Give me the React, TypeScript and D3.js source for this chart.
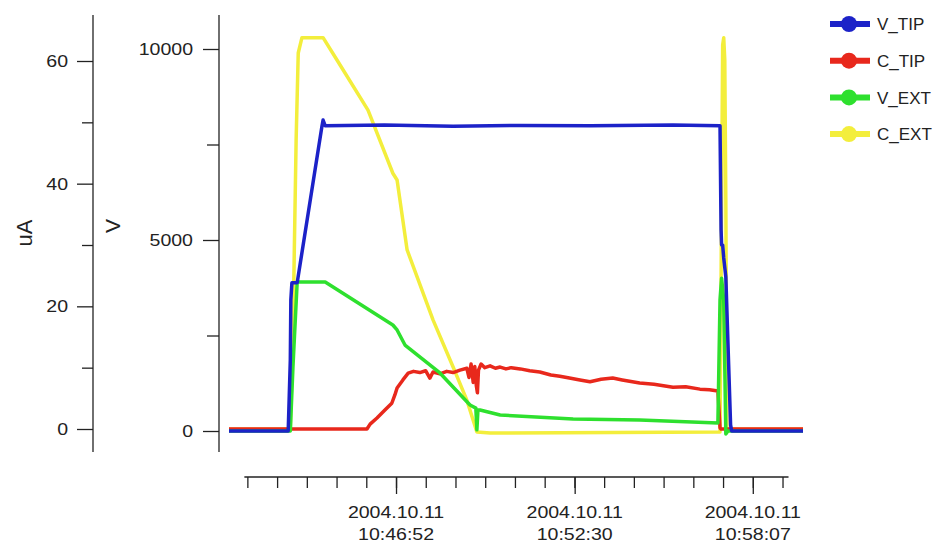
import { useEffect } from 'react';
import * as d3 from 'd3';

const day = '2004-10-11 ';

const vTipTimes = ['10:41:36', '10:43:28', '10:43:30', '10:43:32', '10:43:33', '10:43:35', '10:43:45', '10:44:32', '10:44:34', '10:44:38', '10:46:30', '10:48:40', '10:50:47', '10:53:00', '10:55:36', '10:57:05', '10:57:07', '10:57:08', '10:57:10', '10:57:12', '10:57:16', '10:57:25', '10:57:27', '10:59:42'];
const vTipValues = [0, 0, 920, 1860, 3430, 3880, 3880, 7990, 8140, 7990, 8010, 7980, 8000, 7990, 8010, 7990, 5260, 4870, 4870, 4530, 4030, 160, 0, 0];

const cTipTimes = ['10:41:36', '10:45:57', '10:46:03', '10:46:16', '10:46:31', '10:46:44', '10:46:50', '10:46:54', '10:47:05', '10:47:15', '10:47:25', '10:47:37', '10:47:48', '10:47:56', '10:48:02', '10:48:15', '10:48:28', '10:48:40', '10:48:53', '10:49:06', '10:49:10', '10:49:14', '10:49:18', '10:49:21', '10:49:24', '10:49:26', '10:49:28', '10:49:33', '10:49:40', '10:49:50', '10:50:00', '10:50:09', '10:50:20', '10:50:30', '10:50:47', '10:51:05', '10:51:24', '10:51:45', '10:52:02', '10:52:20', '10:52:40', '10:52:59', '10:53:20', '10:53:42', '10:54:00', '10:54:33', '10:55:00', '10:55:36', '10:56:00', '10:56:27', '10:56:45', '10:57:01', '10:57:05', '10:57:07', '10:59:42'];
const cTipValues = [0, 0, 0.8, 1.8, 3.1, 4.2, 5.6, 6.7, 8.0, 9.1, 9.4, 9.2, 9.5, 8.3, 9.3, 9.0, 9.4, 9.2, 9.6, 9.9, 8.4, 10.6, 7.6, 10.2, 7.0, 5.9, 9.6, 10.6, 10.0, 10.3, 9.9, 10.1, 9.8, 10.0, 9.8, 9.5, 9.3, 8.8, 8.6, 8.3, 8.0, 7.7, 8.1, 8.3, 8.0, 7.5, 7.3, 6.8, 6.9, 6.5, 6.4, 6.2, 0.2, 0, 0];

const vExtTimes = ['10:41:36', '10:43:32', '10:43:37', '10:43:45', '10:44:38', '10:46:46', '10:46:54', '10:47:09', '10:48:15', '10:49:12', '10:49:23', '10:49:25', '10:49:27', '10:49:31', '10:50:09', '10:52:27', '10:54:33', '10:57:01', '10:57:05', '10:57:08', '10:57:12', '10:57:16', '10:57:20', '10:59:42'];
const vExtValues = [0, 0, 1680, 3900, 3900, 2775, 2645, 2250, 1520, 680, 600, 30, 550, 550, 420, 315, 290, 210, 3430, 4000, 3430, -80, 0, 0];

const cExtTimes = ['10:41:36', '10:43:32', '10:43:37', '10:43:43', '10:43:47', '10:43:54', '10:44:34', '10:45:00', '10:45:59', '10:46:46', '10:46:54', '10:47:13', '10:48:02', '10:48:40', '10:49:06', '10:49:25', '10:49:50', '10:57:05', '10:57:08', '10:57:10', '10:57:12', '10:57:14', '10:57:16', '10:57:18', '10:57:20', '10:59:42'];
const cExtValues = [0, 0, 15.7, 47.1, 61.3, 63.8, 63.8, 60.2, 52.0, 41.7, 40.6, 29.2, 17.8, 10.1, 4.7, -0.5, -0.65, -0.5, 37.3, 62.6, 63.8, 60.2, 37.3, -0.2, 0, 0];

const seriesNames = ['V_TIP', 'C_TIP', 'V_EXT', 'C_EXT'];
const seriesColors = ['#1c22c8', '#e8281c', '#2ee02e', '#f3ee3c'];

const majorTickTimes = ['10:46:52', '10:52:30', '10:58:07'];
const uATicks = [0, 20, 40, 60];
const uAMinorTicks = [10, 30, 50];
const vTicks = [0, 5000, 10000];
const vMinorTicks = [2500, 7500];

function Chart({ width, height }) {

	const drawChart = () => {
		const font = '"Liberation Sans", Arial, sans-serif';
		const fontSize = 17;
		const stretch = 'scale(1.15,1)';
		const axisTop = 15;
		const axisBottom = 452;
		const uAAxisX = 93;
		const vAxisX = 219;
		const xAxisY = 477;

		const parse = d3.timeParse('%Y-%m-%d %H:%M:%S');
		const toDate = t => parse(day + t);

		d3.select('#container').select('svg').remove();

		const svg = d3
			.select('#container')
			.append('svg')
			.attr('width', width)
			.attr('height', height)
			.style('display', 'block')
			.style('background', '#fff');

		const allTimes = [...vTipTimes, ...cTipTimes, ...vExtTimes, ...cExtTimes].map(toDate);
		const xScale = d3
			.scaleTime()
			.domain(d3.extent(allTimes))
			.range([229, 803]);
		const vScale = d3
			.scaleLinear()
			.domain([0, 10000])
			.range([431, 49]);
		const uAScale = d3
			.scaleLinear()
			.domain([0, 60])
			.range([429, 61]);

		const styleAxis = g => {
			g.select('.domain').remove();
			g.selectAll('line').attr('stroke', '#222').attr('stroke-width', 1.3);
		};

		// left (uA) axis
		svg.append('line')
			.attr('x1', uAAxisX).attr('x2', uAAxisX)
			.attr('y1', axisTop).attr('y2', axisBottom)
			.attr('stroke', '#222').attr('stroke-width', 1.3);
		svg.append('g')
			.attr('transform', `translate(${uAAxisX},0)`)
			.call(d3.axisLeft(uAScale).tickValues(uATicks).tickSize(16).tickFormat(''))
			.call(styleAxis);
		svg.append('g')
			.attr('transform', `translate(${uAAxisX},0)`)
			.call(d3.axisLeft(uAScale).tickValues(uAMinorTicks).tickSize(11).tickFormat(''))
			.call(styleAxis);
		svg.append('g')
			.selectAll('text')
			.data(uATicks)
			.join('text')
			.attr('transform', d => `translate(${uAAxisX - 25},${uAScale(d)}) ${stretch}`)
			.attr('dy', '0.35em')
			.attr('text-anchor', 'end')
			.style('font-family', font)
			.style('font-size', fontSize + 'px')
			.attr('fill', '#222')
			.text(d => d);

		// inner (V) axis
		svg.append('line')
			.attr('x1', vAxisX).attr('x2', vAxisX)
			.attr('y1', axisTop).attr('y2', axisBottom)
			.attr('stroke', '#222').attr('stroke-width', 1.3);
		svg.append('g')
			.attr('transform', `translate(${vAxisX},0)`)
			.call(d3.axisLeft(vScale).tickValues(vTicks).tickSize(16).tickFormat(''))
			.call(styleAxis);
		svg.append('g')
			.attr('transform', `translate(${vAxisX},0)`)
			.call(d3.axisLeft(vScale).tickValues(vMinorTicks).tickSize(12).tickFormat(''))
			.call(styleAxis);
		svg.append('g')
			.selectAll('text')
			.data(vTicks)
			.join('text')
			.attr('transform', d => `translate(${vAxisX - 26},${vScale(d)}) ${stretch}`)
			.attr('dy', '0.35em')
			.attr('text-anchor', 'end')
			.style('font-family', font)
			.style('font-size', fontSize + 'px')
			.attr('fill', '#222')
			.text(d => d);

		// axis titles
		svg.append('text')
			.attr('transform', `translate(32,233) rotate(-90)`)
			.attr('text-anchor', 'middle')
			.style('font-family', font)
			.style('font-size', '22px')
			.attr('fill', '#222')
			.text('uA');
		svg.append('text')
			.attr('transform', `translate(120,226) rotate(-90)`)
			.attr('text-anchor', 'middle')
			.style('font-family', font)
			.style('font-size', '21px')
			.attr('fill', '#222')
			.text('V');

		// bottom time axis
		const majors = majorTickTimes.map(toDate);
		const step = (majors[majors.length - 1] - majors[0]) / ((majors.length - 1) * 6);
		const minors = d3.range(-5, (majors.length - 1) * 6 + 2).map(i => new Date(+majors[0] + i * step));
		svg.append('line')
			.attr('x1', xScale(minors[0]) - 3).attr('x2', xScale(minors[minors.length - 1]) + 6)
			.attr('y1', xAxisY).attr('y2', xAxisY)
			.attr('stroke', '#222').attr('stroke-width', 1.3);
		svg.append('g')
			.attr('transform', `translate(0,${xAxisY})`)
			.call(d3.axisBottom(xScale).tickValues(minors).tickSize(11).tickFormat(''))
			.call(styleAxis);
		svg.append('g')
			.attr('transform', `translate(0,${xAxisY})`)
			.call(d3.axisBottom(xScale).tickValues(majors).tickSize(17).tickFormat(''))
			.call(styleAxis);
		const fmtDay = d3.timeFormat('%Y.%m.%d');
		const fmtTime = d3.timeFormat('%H:%M:%S');
		const labels = svg.append('g')
			.selectAll('g')
			.data(majors)
			.join('g')
			.attr('transform', d => `translate(${xScale(d)},0)`);
		labels.append('text')
			.attr('transform', `translate(0,518) ${stretch}`)
			.attr('text-anchor', 'middle')
			.style('font-family', font)
			.style('font-size', fontSize + 'px')
			.attr('fill', '#222')
			.text(d => fmtDay(d));
		labels.append('text')
			.attr('transform', `translate(0,540) ${stretch}`)
			.attr('text-anchor', 'middle')
			.style('font-family', font)
			.style('font-size', fontSize + 'px')
			.attr('fill', '#222')
			.text(d => fmtTime(d));

		// traces
		const series = [
			{ times: cExtTimes, values: cExtValues, scale: uAScale, color: seriesColors[3] },
			{ times: cTipTimes, values: cTipValues, scale: uAScale, color: seriesColors[1] },
			{ times: vExtTimes, values: vExtValues, scale: vScale, color: seriesColors[2] },
			{ times: vTipTimes, values: vTipValues, scale: vScale, color: seriesColors[0] },
		];
		series.forEach(s => {
			const pts = s.times.map((t, i) => [toDate(t), s.values[i]]);
			const line = d3
				.line()
				.x(d => xScale(d[0]))
				.y(d => s.scale(d[1]));
			svg.append('path')
				.datum(pts)
				.attr('fill', 'none')
				.attr('stroke', s.color)
				.attr('stroke-width', 3.5)
				.attr('stroke-linejoin', 'round')
				.attr('d', line);
		});

		// legend
		const legend = svg.append('g')
			.selectAll('g')
			.data(seriesNames)
			.join('g')
			.attr('transform', (d, i) => `translate(830,${24 + i * 36.7})`);
		legend.append('line')
			.attr('x1', 0).attr('x2', 40)
			.attr('stroke', (d, i) => seriesColors[i])
			.attr('stroke-width', 6);
		legend.append('circle')
			.attr('cx', 19)
			.attr('r', 8)
			.attr('fill', (d, i) => seriesColors[i]);
		legend.append('text')
			.attr('x', 47)
			.attr('dy', '0.36em')
			.style('font-family', font)
			.style('font-size', '17px')
			.attr('fill', '#222')
			.text(d => d);
	};

	useEffect(() => {
		drawChart();
	}, []);

	return (
		<div id='container' style={{ position: 'absolute', left: 0, top: 0 }}></div>
	);
}

export default function App() {
	return <Chart width={947} height={546} />;
}
